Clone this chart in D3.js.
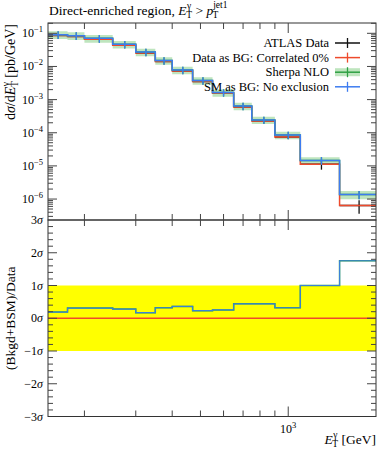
<!DOCTYPE html>
<html>
<head>
<meta charset="utf-8">
<script src="https://cdnjs.cloudflare.com/ajax/libs/d3/7.8.5/d3.min.js"></script>
<style>
body { margin: 0; background: #fff; }
svg { font-family: "Liberation Serif", "DejaVu Serif", serif; }
</style>
</head>
<body>
<svg id="chart" width="389" height="450"></svg>
<script>
// bin edges in E_T^gamma [GeV]
var binEdges = [150, 175, 200, 250, 300, 350, 400, 470, 550, 650, 750, 900, 1100, 1500, 2000];
// ATLAS data (also "Data as BG: Correlated 0%")
var dataVals = [0.086, 0.080, 0.0664, 0.0437, 0.0254, 0.0141, 0.0073, 0.0035, 0.00155, 5.99e-4, 2.27e-4, 7.4e-5, 1.13e-5, 6.4e-7];
var dataErr  = [0.004, 0.004, 0.003, 0.002, 0.0012, 0.0007, 0.0004, 0.0002, 0.0001, 4e-5, 2e-5, 8e-6, 3.6e-6, 2.8e-7];
// Sherpa NLO / SM as BG
var sherpaVals = [0.0908, 0.0847, 0.0707, 0.0465, 0.0273, 0.0151, 0.00782, 0.00377, 0.00164, 6.41e-4, 2.43e-4, 8.55e-5, 1.46e-5, 1.37e-6];
var sherpaRelErr = [0.26, 0.26, 0.26, 0.25, 0.25, 0.25, 0.25, 0.25, 0.25, 0.25, 0.25, 0.25, 0.26, 0.28];
// ratio panel, (Bkgd+BSM)/Data in sigma
var ratioSM = [0.19, 0.31, 0.31, 0.28, 0.17, 0.32, 0.36, 0.23, 0.255, 0.44, 0.44, 0.32, 1.0, 1.755];
var ratioData = [0, 0, 0, 0, 0, 0, 0, 0, 0, 0, 0, 0, 0, 0];
var legendLabels = ["ATLAS Data", "Data as BG: Correlated 0%", "Sherpa NLO", "SM as BG: No exclusion"];

var colRed = "#ee4a2c", colBlue = "#3d7cf0", colGreen = "#2ea043", colBand = "rgba(70,180,70,0.35)";

var svg = d3.select("#chart");
var left = 48, right = 376, topY = 23, mid = 220, bottom = 416.5;

var x = d3.scaleLog().domain([150, 2000]).range([left, right]);
var y = d3.scaleLog().domain([Math.pow(10, -6.632), Math.pow(10, -0.689)]).range([mid, topY]);
var yr = d3.scaleLinear().domain([-3, 3]).range([bottom, mid]);

var bins = binEdges.slice(0, -1).map(function (lo, i) {
    return {lo: lo, hi: binEdges[i + 1], c: (lo + binEdges[i + 1]) / 2, i: i};
});

function stepPts(vals) {
    return binEdges.map(function (e, i) {
        return {x: e, v: vals[Math.min(i, vals.length - 1)]};
    });
}

// ---------- main panel ----------
svg.append("clipPath").attr("id", "clipMain").append("rect")
    .attr("x", left).attr("y", topY).attr("width", right - left).attr("height", mid - topY);
var gm = svg.append("g").attr("clip-path", "url(#clipMain)");

var band = d3.area().curve(d3.curveStepAfter)
    .x(function (d) { return x(d.x); })
    .y0(function (d, i) { return y(d.v * (1 - sherpaRelErr[Math.min(i, 13)])); })
    .y1(function (d, i) { return y(d.v * (1 + sherpaRelErr[Math.min(i, 13)])); });
gm.append("path").attr("d", band(stepPts(sherpaVals))).attr("fill", colBand);

var step = d3.line().curve(d3.curveStepAfter)
    .x(function (d) { return x(d.x); })
    .y(function (d) { return y(d.v); });

function drawHist(vals, col, relErr) {
    gm.append("path").attr("d", step(stepPts(vals)))
        .attr("fill", "none").attr("stroke", col).attr("stroke-width", 1.5);
    gm.selectAll(null).data(bins).enter().append("line")
        .attr("x1", function (d) { return x(d.c); })
        .attr("x2", function (d) { return x(d.c); })
        .attr("y1", function (d) { return y(vals[d.i] * (1 + relErr[d.i])); })
        .attr("y2", function (d) { return y(vals[d.i] * (1 - relErr[d.i])); })
        .attr("stroke", col).attr("stroke-width", 1.3);
}

// data (black)
gm.selectAll(null).data(bins).enter().append("line")
    .attr("x1", function (d) { return x(d.lo); })
    .attr("x2", function (d) { return x(d.hi); })
    .attr("y1", function (d) { return y(dataVals[d.i]); })
    .attr("y2", function (d) { return y(dataVals[d.i]); })
    .attr("stroke", "#111").attr("stroke-width", 1.3);
gm.selectAll(null).data(bins).enter().append("line")
    .attr("x1", function (d) { return x(d.c); })
    .attr("x2", function (d) { return x(d.c); })
    .attr("y1", function (d) { return y(dataVals[d.i] + dataErr[d.i]); })
    .attr("y2", function (d) { return y(dataVals[d.i] - dataErr[d.i]); })
    .attr("stroke", "#111").attr("stroke-width", 1.3);

drawHist(dataVals, colRed, dataVals.map(function () { return 0; }));
drawHist(sherpaVals, colGreen, sherpaRelErr);
drawHist(sherpaVals, colBlue, sherpaRelErr);

// ---------- ratio panel ----------
svg.append("clipPath").attr("id", "clipRatio").append("rect")
    .attr("x", left).attr("y", mid).attr("width", right - left).attr("height", bottom - mid);
var gr = svg.append("g").attr("clip-path", "url(#clipRatio)");
gr.append("rect").attr("x", left).attr("width", right - left)
    .attr("y", yr(1)).attr("height", yr(-1) - yr(1)).attr("fill", "#ffff00");
var rstep = d3.line().curve(d3.curveStepAfter)
    .x(function (d) { return x(d.x); })
    .y(function (d) { return yr(d.v); });
gr.append("path").attr("d", rstep(stepPts(ratioData)))
    .attr("fill", "none").attr("stroke", colRed).attr("stroke-width", 1.5);
gr.append("path").attr("d", rstep(stepPts(ratioSM)))
    .attr("fill", "none").attr("stroke", colGreen).attr("stroke-width", 1.5);
gr.append("path").attr("d", rstep(stepPts(ratioSM)))
    .attr("fill", "none").attr("stroke", colBlue).attr("stroke-width", 1.2).attr("opacity", 0.85);

// ---------- frames and ticks ----------
var tickCol = "#444";
[[topY, mid], [mid, bottom]].forEach(function (p) {
    svg.append("rect").attr("x", left).attr("y", p[0]).attr("width", right - left)
        .attr("height", p[1] - p[0]).attr("fill", "none").attr("stroke", "#333").attr("stroke-width", 1);
});

function tick(x1, y1, x2, y2) {
    svg.append("line").attr("x1", x1).attr("y1", y1).attr("x2", x2).attr("y2", y2)
        .attr("stroke", tickCol).attr("stroke-width", 1);
}

var xt = x.ticks().filter(function (t) { return t > 150 && t < 2000; });
xt.forEach(function (t) {
    var major = Math.abs(Math.log10(t) - Math.round(Math.log10(t))) < 1e-9;
    var L = major ? 10 : 6, px = x(t);
    tick(px, topY, px, topY + L);
    tick(px, mid, px, mid - L);
    tick(px, mid, px, mid + L);
    tick(px, bottom, px, bottom - L);
    if (major) {
        var tx = svg.append("text").attr("x", px).attr("y", 433).attr("text-anchor", "middle")
            .attr("font-size", 12);
        tx.append("tspan").text("10");
        tx.append("tspan").attr("dy", -5).attr("font-size", 8.5).text(Math.round(Math.log10(t)));
    }
});

var yt = y.ticks();
yt.forEach(function (t) {
    var e = Math.log10(t), major = Math.abs(e - Math.round(e)) < 1e-9;
    var L = major ? 9 : 5, py = y(t);
    tick(left, py, left + L, py);
    tick(right, py, right - L, py);
    if (major) {
        var tx = svg.append("text").attr("x", 43).attr("y", py + 4).attr("text-anchor", "end")
            .attr("font-size", 12);
        tx.append("tspan").text("10");
        tx.append("tspan").attr("dy", -5).attr("font-size", 8.5).text("\u2212" + Math.abs(Math.round(e)));
    }
});

d3.range(-3, 3.001, 0.2).forEach(function (t) {
    var major = Math.abs(t - Math.round(t)) < 1e-6;
    var L = major ? 9 : 5, py = yr(t);
    if (Math.abs(t) < 2.99 || !major) {
        tick(left, py, left + L, py);
        tick(right, py, right - L, py);
    }
    if (major) {
        var v = Math.round(t);
        var tx = svg.append("text").attr("x", 43).attr("y", py + 4).attr("text-anchor", "end")
            .attr("font-size", 12);
        tx.append("tspan").text((v < 0 ? "\u2212" + (-v) : v));
        tx.append("tspan").attr("font-style", "italic").text("\u03c3");
    }
});

// ---------- texts ----------
function etGamma(sel, big) {
    // E with gamma superscript and T subscript stacked
    sel.append("tspan").attr("font-style", "italic").text("E");
    sel.append("tspan").attr("font-size", 9.5).attr("dy", -6).attr("dx", 0.5).text("\u03b3");
    sel.append("tspan").attr("font-size", 9.5).attr("dy", 9).attr("dx", -5).text("T");
    sel.append("tspan").attr("dy", -3).text(big);
}

var title = svg.append("text").attr("x", 49).attr("y", 15).attr("font-size", 13.5);
title.append("tspan").text("Direct-enriched region, ");
etGamma(title, " > ");
title.append("tspan").attr("font-style", "italic").text("p");
title.append("tspan").attr("font-size", 9.5).attr("dy", -7).text("jet1");
title.append("tspan").attr("font-size", 9.5).attr("dy", 10).attr("dx", -15).text("T");

var ylab = svg.append("text").attr("transform", "translate(15," + (topY + 1) + ") rotate(-90)")
    .attr("text-anchor", "end").attr("font-size", 14);
ylab.append("tspan").text("d");
ylab.append("tspan").attr("font-style", "italic").text("\u03c3");
ylab.append("tspan").text("/d");
etGamma(ylab, " [pb/GeV]");

svg.append("text").attr("transform", "translate(15," + ((mid + bottom) / 2) + ") rotate(-90)")
    .attr("text-anchor", "middle").attr("font-size", 13.5).text("(Bkgd+BSM)/Data");

var xlab = svg.append("text").attr("x", right).attr("y", 444).attr("text-anchor", "end").attr("font-size", 13.5);
etGamma(xlab, " [GeV]");

// ---------- legend ----------
var legCols = ["#111", colRed, colGreen, colBlue];
legendLabels.forEach(function (lab, i) {
    var ly = 43 + i * 14.6;
    svg.append("text").attr("x", 329).attr("y", ly + 4).attr("text-anchor", "end")
        .attr("font-size", 12.5).text(lab);
    if (i === 2) {
        svg.append("rect").attr("x", 335).attr("y", ly - 4).attr("width", 25).attr("height", 8).attr("fill", colBand);
    }
    svg.append("line").attr("x1", 335).attr("x2", 360).attr("y1", ly).attr("y2", ly)
        .attr("stroke", legCols[i]).attr("stroke-width", 1.5);
    svg.append("line").attr("x1", 347.5).attr("x2", 347.5).attr("y1", ly - 5).attr("y2", ly + 5)
        .attr("stroke", legCols[i]).attr("stroke-width", 1.3);
});
</script>
</body>
</html>
